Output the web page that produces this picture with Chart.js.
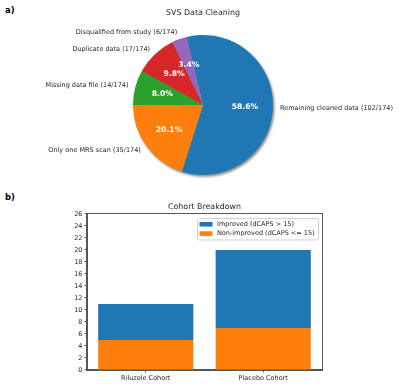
<!DOCTYPE html>
<html><head><meta charset="utf-8">
<script src="https://cdn.jsdelivr.net/npm/chart.js@4.4.1/dist/chart.umd.min.js"></script>
<style>
html,body{margin:0;padding:0;background:#fff;width:400px;height:386px;overflow:hidden}
canvas{position:absolute;left:0}
#pie{top:0}
#bar{top:190px}
.lab{position:absolute;font:bold 8.5px "DejaVu Sans";color:#000;line-height:10px}
</style></head><body>
<div class="lab" style="left:5px;top:5px">a)</div>
<div class="lab" style="left:5px;top:192px">b)</div>
<canvas id="pie" width="400" height="190"></canvas>
<canvas id="bar" width="400" height="196"></canvas>
<script>
const pieLabels = ['Remaining cleaned data (102/174)','Only one MRS scan (35/174)','Missing data file (14/174)','Duplicate data (17/174)','Disqualified from study (6/174)'];
const pieValues = [102, 35, 14, 17, 6];
const pieColors = ['#1f77b4','#ff7f0e','#2ca02c','#d62728','#9467bd'];

const cohorts = ['Riluzole Cohort','Placebo Cohort'];
const improvedLabel = 'Improved (dCAPS > 15)';
const nonImprovedLabel = 'Non-improved (dCAPS <= 15)';
const improved = [6, 13];     // stacked on top: totals 11 and 20
const nonImproved = [5, 7];
const yMin = 0, yMax = 26, yStep = 2;

const FAM = '"DejaVu Sans"';
const TXT = '#262626';
const AX = '#555';

const pieText = {
  id: 'pieText',
  beforeDatasetsDraw(chart) {
    const a = chart.getDatasetMeta(0).data[0];
    const ctx = chart.ctx;
    ctx.save();
    ctx.filter = 'blur(1px)';
    ctx.beginPath();
    ctx.arc(a.x + 1.5, a.y + 1.8, a.outerRadius, 0, Math.PI * 2);
    ctx.fillStyle = 'rgba(0,0,0,0.45)';
    ctx.fill();
    ctx.restore();
  },
  afterDatasetsDraw(chart) {
    const meta = chart.getDatasetMeta(0);
    const ctx = chart.ctx;
    const total = pieValues.reduce((s, v) => s + v, 0);
    ctx.save();
    meta.data.forEach((arc, i) => {
      const mid = (arc.startAngle + arc.endAngle) / 2;
      const r = arc.outerRadius;
      const c = Math.cos(mid), s = Math.sin(mid);
      ctx.textBaseline = 'middle';
      ctx.font = 'bold 7.7px ' + FAM;
      ctx.fillStyle = '#fff';
      ctx.textAlign = 'center';
      ctx.fillText((pieValues[i] / total * 100).toFixed(1) + '%', arc.x + c * r * 0.6, arc.y + s * r * 0.6);
      ctx.font = '6.5px ' + FAM;
      ctx.fillStyle = TXT;
      ctx.textAlign = c > 0 ? 'left' : 'right';
      ctx.fillText(pieLabels[i], arc.x + c * r * 1.1, arc.y + s * r * 1.1);
    });
    ctx.restore();
  }
};

new Chart(document.getElementById('pie'), {
  type: 'pie',
  data: { labels: pieLabels, datasets: [{ data: pieValues, backgroundColor: pieColors, borderWidth: 0 }] },
  options: {
    responsive: false, animation: false,
    rotation: -13.4,
    layout: { padding: { left: 133, right: 127, top: 0, bottom: 15 } },
    plugins: {
      legend: { display: false }, tooltip: { enabled: false },
      title: { display: true, fullSize: false, text: 'SVS Data Cleaning', color: TXT,
        font: { family: FAM, size: 7.9, weight: 'normal', lineHeight: 1.2 },
        padding: { top: 8.3, bottom: 17.2 } }
    }
  },
  plugins: [pieText]
});

const frame = {
  id: 'frame',
  afterDraw(chart) {
    const a = chart.chartArea, ctx = chart.ctx;
    ctx.save();
    ctx.strokeStyle = AX; ctx.lineWidth = 1;
    ctx.strokeRect(Math.round(a.left) - 0.5, Math.round(a.top) - 0.5, Math.round(a.right - a.left) + 1, Math.round(a.bottom - a.top) + 1);
    // legend box
    const bw = 121, bh = 21.5;
    const bx = a.right - 4 - bw, by = a.top + 4;
    ctx.beginPath();
    ctx.roundRect(bx + 0.5, by + 0.5, bw, bh, 2);
    ctx.fillStyle = 'rgba(255,255,255,0.8)';
    ctx.fill();
    ctx.strokeStyle = '#d0d0d0';
    ctx.stroke();
    const ds = chart.data.datasets.slice().reverse();
    ds.forEach((d, i) => {
      const cy = by + 6.3 + i * 9.3;
      ctx.fillStyle = d.backgroundColor;
      ctx.fillRect(bx + 2.5, cy - 2.3, 13, 4.6);
      ctx.fillStyle = TXT;
      ctx.font = '6.5px ' + FAM;
      ctx.textAlign = 'left'; ctx.textBaseline = 'middle';
      ctx.fillText(d.label, bx + 20, cy);
    });
    ctx.restore();
  }
};

new Chart(document.getElementById('bar'), {
  type: 'bar',
  data: {
    labels: cohorts,
    datasets: [
      { label: nonImprovedLabel, data: nonImproved, backgroundColor: '#ff7f0e' },
      { label: improvedLabel, data: improved, backgroundColor: '#1f77b4' }
    ]
  },
  options: {
    responsive: false, animation: false,
    layout: { padding: { left: 67, right: 78, top: 0, bottom: 0 } },
    datasets: { bar: { barPercentage: 0.81, categoryPercentage: 1, borderWidth: 0 } },
    scales: {
      x: {
        stacked: true, offset: true,
        grid: { offset: false, drawOnChartArea: false, tickLength: 2.5, color: AX },
        border: { color: AX },
        ticks: { font: { family: FAM, size: 6.5 }, color: TXT, padding: 1.5, maxRotation: 0 },
        afterFit(s) { s.height = 16; }
      },
      y: {
        stacked: true, min: yMin, max: yMax,
        grid: { drawOnChartArea: false, tickLength: 2.5, color: AX },
        border: { color: AX },
        ticks: { stepSize: yStep, font: { family: FAM, size: 6.5 }, color: TXT, padding: 2 },
        afterFit(s) { s.width = 20; }
      }
    },
    plugins: {
      legend: { display: false }, tooltip: { enabled: false },
      title: { display: true, fullSize: false, text: 'Cohort Breakdown', color: TXT,
        font: { family: FAM, size: 7.9, weight: 'normal', lineHeight: 1.2 },
        padding: { top: 12.3, bottom: 2.2 } }
    }
  },
  plugins: [frame]
});
</script>
</body></html>
